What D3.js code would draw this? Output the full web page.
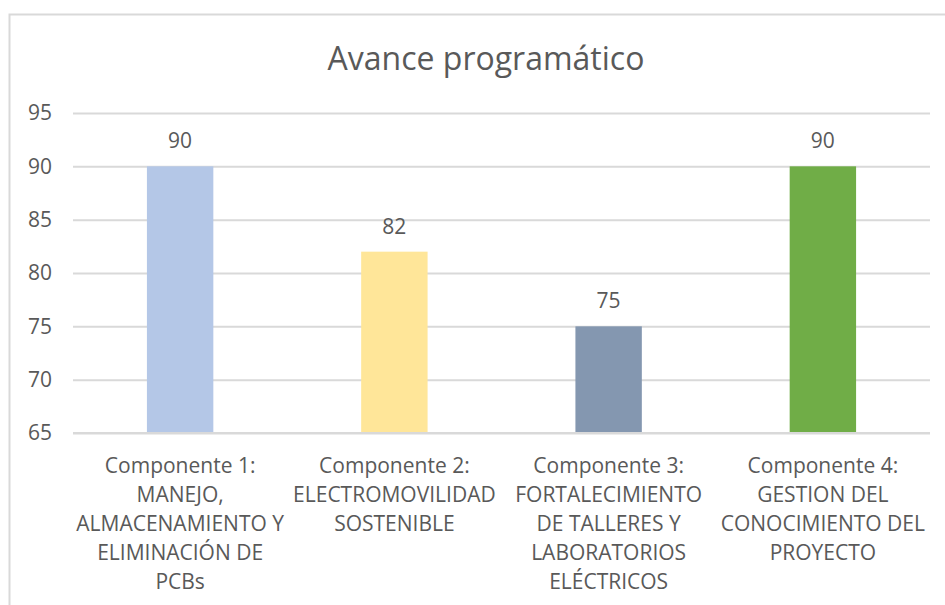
<!DOCTYPE html>
<html>
<head>
<meta charset="utf-8">
<script src="https://cdn.jsdelivr.net/npm/d3@7"></script>
<style>
  body { margin:0; background:#fff; }
  text { font-family: "Open Sans", "Liberation Sans", sans-serif; fill:#595959; }
</style>
</head>
<body>
<div id="chart"></div>
<script>
// chart data
var title = "Avance programático";
var categories = [
  "Componente 1:\nMANEJO,\nALMACENAMIENTO Y\nELIMINACIÓN DE\nPCBs",
  "Componente 2:\nELECTROMOVILIDAD\nSOSTENIBLE",
  "Componente 3:\nFORTALECIMIENTO\nDE TALLERES Y\nLABORATORIOS\nELÉCTRICOS",
  "Componente 4:\nGESTION DEL\nCONOCIMIENTO DEL\nPROYECTO"
];
var values = [90, 82, 75, 90];
var colors = ["#B4C7E7", "#FFE699", "#8497B0", "#70AD47"];
var yTicks = [65, 70, 75, 80, 85, 90, 95];

var W = 945, H = 605;
var plotL = 73, plotR = 930, plotT = 113, plotB = 433;

var svg = d3.select("#chart").append("svg")
  .attr("width", W)
  .attr("height", H);

// chart frame (only top and left show in the crop)
svg.append("path")
  .attr("d", "M9.5," + H + "V14.5H" + W)
  .attr("fill", "none")
  .attr("stroke", "#d9d9d9")
  .attr("stroke-width", 2);

svg.append("text")
  .attr("x", 486)
  .attr("y", 70)
  .attr("text-anchor", "middle")
  .style("font-size", "32px")
  .text(title);

var x = d3.scaleBand().domain(d3.range(categories.length)).range([plotL, plotR]).paddingInner(0.69).paddingOuter(0.345);
var y = d3.scaleLinear().domain([65, 95]).range([plotB, plotT]);

// gridlines
var yAxis = d3.axisLeft(y).tickValues(yTicks).tickSize(-(plotR - plotL)).tickPadding(21);
var gy = svg.append("g").attr("transform", "translate(" + plotL + ",0)").call(yAxis);
gy.select(".domain").remove();
gy.selectAll(".tick line").attr("stroke", "#d9d9d9").attr("stroke-width", 2);
gy.selectAll(".tick text")
  .style("font-size", "21px")
  .style("font-family", "'Open Sans', sans-serif")
  .attr("fill", "#595959");

// bars
svg.selectAll(".bar").data(values).enter().append("rect")
  .attr("class", "bar")
  .attr("x", function(d, i) { return x(i); })
  .attr("y", function(d) { return y(d); })
  .attr("width", x.bandwidth())
  .attr("height", function(d) { return y(65) - y(d); })
  .attr("fill", function(d, i) { return colors[i]; });

// value labels
svg.selectAll(".val").data(values).enter().append("text")
  .attr("class", "val")
  .attr("x", function(d, i) { return x(i) + x.bandwidth() / 2; })
  .attr("y", function(d) { return y(d) - 18; })
  .attr("text-anchor", "middle")
  .style("font-size", "21px")
  .text(function(d) { return d; });

// baseline redrawn over bars
svg.append("line")
  .attr("x1", plotL).attr("x2", plotR)
  .attr("y1", y(65)).attr("y2", y(65))
  .attr("stroke", "#d9d9d9").attr("stroke-width", 2);

// category labels
categories.forEach(function(c, i) {
  var t = svg.append("text")
    .attr("text-anchor", "middle")
    .style("font-size", "21px");
  c.split("\n").forEach(function(line, j) {
    t.append("tspan")
      .attr("x", x(i) + x.bandwidth() / 2)
      .attr("y", 473 + j * 29)
      .text(line);
  });
});
</script>
</body>
</html>
